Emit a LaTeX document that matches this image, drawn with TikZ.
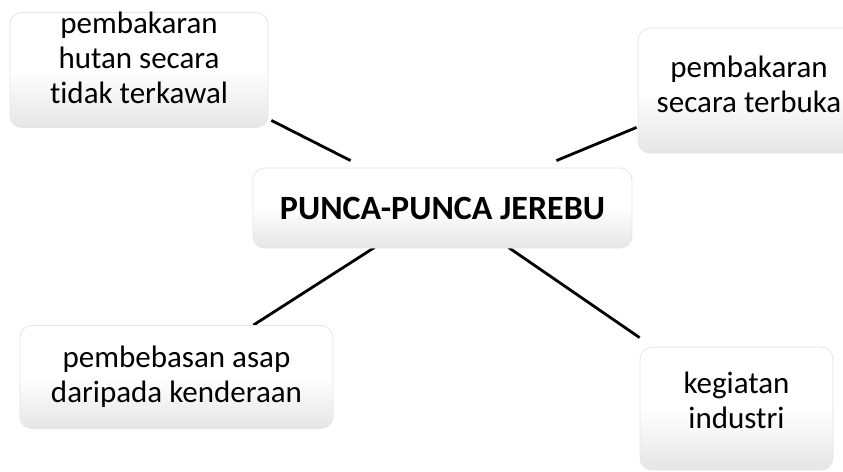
\documentclass[tikz,border=0pt]{standalone}
\usepackage{fontspec}
\setmainfont{Carlito}[Ligatures=NoCommon]
\tikzset{
 box/.style={rounded corners=6pt,draw=black!10,top color=white,bottom color=black!10,
  middle color=white,align=center,inner sep=0pt,
  font=\fontsize{15.5}{17.4}\selectfont},
 link/.style={line width=1.4pt}
}
\begin{document}
\begin{tikzpicture}[x=.5pt,y=-.5pt]
 \useasboundingbox (0,0) rectangle (843,472);
 \coordinate (hutanpos) at (139,70);
 \coordinate (puncapos) at (442.5,208);
 \coordinate (terbukapos) at (749,90.5);
 \coordinate (asappos) at (176.5,377);
 \coordinate (industripos) at (736.5,408.5);
 % kotak kosong dulu, untuk anchor
 \path (hutanpos) node[minimum width=129pt,minimum height=57pt] (hutan) {};
 \path (puncapos) node[minimum width=189.5pt,minimum height=40pt] (punca) {};
 \path (terbukapos) node[minimum width=111pt,minimum height=62.5pt] (terbuka) {};
 \path (asappos) node[minimum width=156.5pt,minimum height=51.5pt] (asap) {};
 \path (industripos) node[minimum width=96.5pt,minimum height=61.5pt] (industri) {};
 % garis
 \draw[link] ([shift={(3,-7)}]hutan.south east) -- ([shift={(98,-7)}]punca.north west);
 \draw[link] ([shift={(-76,-7)}]punca.north east) -- ([shift={(-1,-26)}]terbuka.south west);
 \draw[link] ([shift={(122,-1)}]punca.south west) -- ([shift={(-80,0)}]asap.north east);
 \draw[link] ([shift={(-124,-1)}]punca.south east) -- ([shift={(0,-9)}]industri.north west);
 % kotak
 \node[box,minimum width=129pt,minimum height=57pt,text depth=12pt] (hutantxt) at (hutanpos)
  {pembakaran\\hutan secara\\tidak terkawal};
 \node[box,minimum width=189.5pt,minimum height=40pt,font=\fontsize{17}{18}\selectfont\bfseries]
  (puncatxt) at (puncapos) {PUNCA-PUNCA JEREBU};
 \node[box,minimum width=111pt,minimum height=62.5pt,text depth=6pt] (terbukatxt) at (terbukapos)
  {pembakaran\\secara terbuka};
 \node[box,minimum width=156.5pt,minimum height=51.5pt] (asaptxt) at (asappos)
  {pembebasan asap\\daripada kenderaan};
 \node[box,minimum width=96.5pt,minimum height=61.5pt,text depth=8pt] (industritxt) at (industripos)
  {kegiatan\\industri};
\end{tikzpicture}
\end{document}
